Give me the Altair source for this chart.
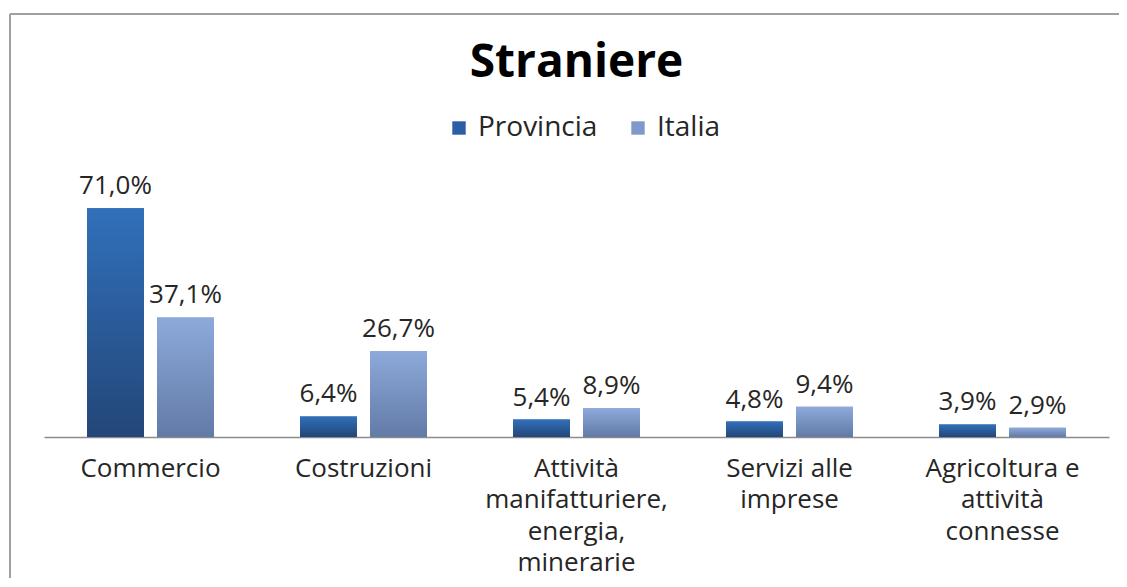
import altair as alt
import pandas as pd

categories = [
    "Commercio",
    "Costruzioni",
    "Attività\nmanifatturiere,\nenergia,\nminerarie",
    "Servizi alle\nimprese",
    "Agricoltura e\nattività\nconnesse",
]
series = ["Provincia", "Italia"]
provincia = [71.0, 6.4, 5.4, 4.8, 3.9]
italia = [37.1, 26.7, 8.9, 9.4, 2.9]

rows = []
for c, p, i in zip(categories, provincia, italia):
    rows.append({"cat": c, "serie": "Provincia", "v": p})
    rows.append({"cat": c, "serie": "Italia", "v": i})
df = pd.DataFrame(rows)
df["lab"] = df["v"].map(lambda v: f"{v:.1f}".replace(".", ",") + "%")

FONT = "Open Sans"
TXT = "#262626"
W, H = 1065, 287
YMAX = 89.1

x_enc = alt.X(
    "cat:N",
    sort=categories,
    scale=alt.Scale(paddingInner=0.404, paddingOuter=0.202),
    axis=alt.Axis(
        title=None,
        labelAngle=0,
        labelExpr="split(datum.label, '\\n')",
        labelFont=FONT,
        labelFontSize=26,
        labelColor=TXT,
        labelLineHeight=31.5,
        labelPadding=18,
        labelLimit=400,
        labelBaseline="top",
        ticks=False,
        domainColor="#8c8c8c",
        domainWidth=1.5,
        grid=False,
    ),
)
xo_enc = alt.XOffset(
    "serie:N", sort=series,
    scale=alt.Scale(domain=series, paddingInner=0.186, paddingOuter=0),
)
y_enc = alt.Y("v:Q", scale=alt.Scale(domain=[0, YMAX]), axis=None)

base = alt.Chart(df).encode(x=x_enc, xOffset=xo_enc, y=y_enc)

legend_bars = base.mark_bar().encode(
    color=alt.Color(
        "serie:N",
        sort=series,
        scale=alt.Scale(domain=series, range=["#2B5EA3", "#7F99C9"]),
        legend=alt.Legend(
            title=None,
            orient="none",
            legendX=401,
            legendY=-36,
            direction="horizontal",
            labelFont=FONT,
            labelFontSize=28,
            labelColor=TXT,
            symbolType="square",
            symbolSize=180,
            symbolStrokeWidth=0,
            symbolOpacity=1,
            columnPadding=26,
            labelOffset=5,
        ),
    )
)

grad_prov = alt.LinearGradient(
    gradient="linear", x1=0, x2=0, y1=0, y2=1,
    stops=[alt.GradientStop(color="#3170BA", offset=0),
           alt.GradientStop(color="#234678", offset=1)],
)
grad_ita = alt.LinearGradient(
    gradient="linear", x1=0, x2=0, y1=0, y2=1,
    stops=[alt.GradientStop(color="#8DAADB", offset=0),
           alt.GradientStop(color="#627AA6", offset=1)],
)

bars_prov = base.transform_filter(alt.datum.serie == "Provincia").mark_bar(color=grad_prov)
bars_ita = base.transform_filter(alt.datum.serie == "Italia").mark_bar(color=grad_ita)

labels = base.mark_text(
    font=FONT, fontSize=26, color=TXT, baseline="alphabetic", dy=-14
).encode(text="lab:N")

one = alt.Chart(pd.DataFrame({"k": [0]}))
frame_left = one.mark_rule(color="#a0a0a0", strokeWidth=2).encode(
    x=alt.value(-34), y=alt.value(-136), y2=alt.value(H + 200)
)
frame_top = one.mark_rule(color="#a0a0a0", strokeWidth=2).encode(
    x=alt.value(-34), x2=alt.value(W + 200), y=alt.value(-136)
)

chart = (
    alt.layer(frame_left, frame_top, legend_bars, bars_prov, bars_ita, labels)
    .properties(
        width=W,
        height=H,
        padding={"left": 36, "top": 142, "right": 10, "bottom": 141},
        autosize=alt.AutoSizeParams(type="none"),
        title=alt.TitleParams(
            "Straniere",
            font=FONT,
            fontSize=46,
            fontWeight="bold",
            color="black",
            anchor="middle",
            frame="group",
            baseline="alphabetic",
            offset=-110,
        ),
        background="white",
    )
    .configure_view(stroke=None)
)

chart.save("out.html", embed_options={"renderer": "svg", "actions": False})
